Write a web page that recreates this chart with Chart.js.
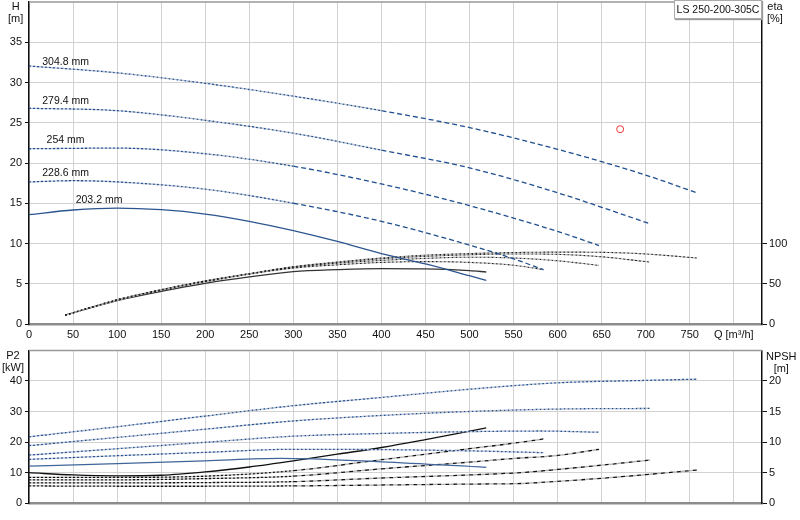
<!DOCTYPE html>
<html>
<head>
<meta charset="utf-8">
<script src="https://cdn.jsdelivr.net/npm/chart.js@4.4.1/dist/chart.umd.min.js"></script>
<style>
  body { margin: 0; background: #fff; }
  #wrap { position: relative; width: 800px; height: 520px; overflow: hidden; font-family: "Liberation Sans", Arial, sans-serif; color: #111; }
  canvas { position: absolute; left: 0; }
  .t { position: absolute; font-size: 11px; line-height: 12px; text-align: center; }
  #box { position: absolute; left: 674px; top: 0; width: 86px; height: 17px; border: 1px solid #aaa;
         box-shadow: 1px 1px 1px #999; background: #fff; font-size: 10.5px; line-height: 17px; text-align: center; }
</style>
</head>
<body>
<div id="wrap">
  <canvas id="top" width="800" height="348" style="top:-3px"></canvas>
  <canvas id="bottom" width="800" height="175" style="top:345px"></canvas>
  <div class="t" style="left:8px;top:0">H<br>[m]</div>
  <div class="t" style="left:767px;top:0">eta<br>[%]</div>
  <div class="t" style="left:2px;top:349px">P2<br>[kW]</div>
  <div class="t" style="left:766px;top:350px">NPSH<br>[m]</div>
  <div id="box">LS 250-200-305C</div>
</div>
<script>
const sizes = ['304.8 mm', '279.4 mm', '254 mm', '228.6 mm', '203.2 mm'];
const labelQ = [15, 15, 20, 15, 53];
const labelH = [32.5, 27.7, 22.9, 18.8, 15.4];

const qTicks = [0, 50, 100, 150, 200, 250, 300, 350, 400, 450, 500, 550, 600, 650, 700, 750, 800];

// Q-H
const headQ = [
  [0, 100, 200, 300, 400, 500, 600, 700, 758],
  [0, 100, 200, 300, 400, 500, 600, 650, 706],
  [0, 100, 200, 300, 400, 500, 600, 647],
  [0, 50, 100, 200, 300, 400, 500, 550, 584],
  [0, 50, 100, 150, 200, 250, 300, 350, 400, 450, 500, 519]
];
const headH = [
  [32.05, 31.2, 29.9, 28.3, 26.5, 24.4, 21.7, 18.5, 16.3],
  [26.8, 26.5, 25.3, 23.7, 21.6, 19.4, 16.3, 14.5, 12.4],
  [21.77, 21.85, 21.15, 19.6, 17.4, 14.7, 11.5, 9.75],
  [17.65, 17.8, 17.65, 16.75, 15.0, 12.75, 9.8, 8.1, 6.75],
  [13.58, 14.16, 14.4, 14.2, 13.66, 12.76, 11.6, 10.25, 8.73, 7.46, 6.0, 5.43]
];

// efficiency
const etaQ = [
  [41, 100, 150, 200, 250, 300, 350, 400, 450, 500, 550, 600, 650, 700, 758],
  [41, 100, 150, 200, 250, 300, 350, 400, 450, 500, 550, 600, 650, 704],
  [41, 100, 150, 200, 250, 300, 350, 400, 450, 500, 550, 600, 647],
  [41, 100, 150, 200, 250, 300, 350, 400, 450, 500, 550, 584],
  [41, 100, 150, 200, 250, 300, 350, 400, 450, 500, 519]
];
const etaVal = [
  [11, 29.5, 42, 52.5, 62, 71, 77, 82, 85.5, 87.5, 88.8, 89.3, 89, 87, 82],
  [11, 30, 42.5, 53, 62.5, 71, 76.5, 81, 84, 86, 87, 86.5, 83.5, 77],
  [11, 30, 42.5, 53.5, 62.5, 70.5, 75.5, 79, 81.5, 83, 82, 78.5, 72.8],
  [11, 30, 42.5, 53.5, 62, 69.5, 73.5, 76.5, 77.5, 76.5, 73, 67.5],
  [11, 29, 40.5, 50.5, 58.5, 65, 67.5, 68.8, 68.5, 66.3, 64.6]
];

// shaft power P2
const p2Q = [
  [0, 100, 200, 300, 400, 500, 600, 700, 758],
  [0, 100, 200, 300, 400, 500, 600, 705],
  [0, 100, 200, 300, 400, 500, 580, 647],
  [0, 100, 200, 300, 400, 500, 584],
  [0, 100, 200, 285, 400, 519]
];
const p2Val = [
  [21.7, 25.0, 28.5, 31.9, 34.6, 37.3, 39.4, 40.2, 40.6],
  [18.8, 21.5, 24.2, 26.9, 28.7, 30.0, 30.8, 31.0],
  [15.7, 17.8, 19.9, 21.9, 22.8, 23.4, 23.6, 23.2],
  [14.3, 15.5, 16.6, 17.6, 17.5, 17.1, 16.5],
  [12.1, 12.9, 13.8, 14.6, 13.5, 11.7]
];

// NPSH
const npshQ = [
  [0, 100, 200, 300, 400, 500, 560, 600, 650, 700, 758],
  [0, 100, 200, 300, 400, 500, 560, 600, 650, 705],
  [0, 100, 200, 300, 400, 500, 550, 600, 647],
  [0, 100, 200, 300, 400, 500, 550, 584],
  [0, 50, 100, 150, 200, 250, 300, 350, 400, 450, 519]
];
const npshVal = [
  [2.8, 2.75, 2.75, 2.8, 2.95, 3.1, 3.2, 3.55, 4.05, 4.65, 5.4],
  [3.3, 3.3, 3.35, 3.5, 4.1, 4.6, 5.0, 5.5, 6.2, 7.05],
  [3.8, 3.8, 4.0, 4.4, 5.6, 6.7, 7.3, 7.8, 8.8],
  [4.2, 4.2, 4.4, 5.3, 7.1, 8.9, 9.8, 10.5],
  [4.97, 4.6, 4.45, 4.55, 5.1, 5.9, 6.9, 8.0, 9.1, 10.4, 12.3]
];

const dutyQ = [671];
const dutyH = [24.2];

const FONT = { family: '"Liberation Sans", Arial, sans-serif', size: 11 };
const BLUE = '#1f4f8f', LBLUE = '#b7bfd0', BLACK = '#111', GREY = '#b0b0b0';

const pts = (qs, vs) => qs.map((q, i) => ({ x: q, y: vs[i] }));

// a dashed line with a second colour filling the gaps
function tone(data, axis, color, under, splitQ, dashL, dashR, underRight, w) {
  const left = c => c.p0.parsed.x < splitQ;
  const base = { data, yAxisID: axis, pointRadius: 0, borderWidth: w || 1.3, fill: false, cubicInterpolationMode: 'monotone' };
  return [
    Object.assign({}, base, {
      borderColor: under,
      segment: {
        borderDash: c => left(c) ? dashL : dashR,
        borderDashOffset: c => left(c) ? dashL[0] : dashR[0],
        borderColor: c => (left(c) || underRight) ? under : 'rgba(0,0,0,0)'
      }
    }),
    Object.assign({}, base, {
      borderColor: color,
      segment: { borderDash: c => left(c) ? dashL : dashR }
    })
  ];
}
function solid(data, axis, color) {
  return { data, yAxisID: axis, pointRadius: 0, borderWidth: 1.3, fill: false, borderColor: color, cubicInterpolationMode: 'monotone' };
}

const frame = {
  id: 'frame',
  afterDraw(chart) {
    const { ctx, chartArea: a } = chart;
    ctx.save();
    ctx.strokeStyle = '#999';
    ctx.lineWidth = 1.5;
    ctx.beginPath();
    ctx.moveTo(a.left, a.top);
    ctx.lineTo(a.right, a.top);
    ctx.stroke();
    ctx.restore();
  }
};
const curveLabels = {
  id: 'curveLabels',
  afterDatasetsDraw(chart) {
    const { ctx, scales: { x, y } } = chart;
    ctx.save();
    ctx.font = '10.5px "Liberation Sans", Arial, sans-serif';
    ctx.fillStyle = '#111';
    ctx.textBaseline = 'middle';
    sizes.forEach((s, i) => ctx.fillText(s, x.getPixelForValue(labelQ[i]), y.getPixelForValue(labelH[i])));
    ctx.restore();
  }
};

function xScale(showLabels, h) {
  return {
    type: 'linear', min: 0, max: 832,
    ticks: {
      display: showLabels, font: FONT, color: '#111', padding: 4, maxRotation: 0, autoSkip: false,
      callback: v => v === 800 ? 'Q [m³/h]' : v
    },
    afterBuildTicks: s => { s.ticks = qTicks.map(v => ({ value: v })); },
    grid: { color: '#d2d2d2', drawTicks: false },
    border: { color: '#8c8c8c', width: 2.5 },
    afterFit: s => { s.height = h; s.paddingLeft = 0; s.paddingRight = 0; }
  };
}
function leftScale(max, step) {
  return {
    position: 'left', min: 0, max,
    ticks: { stepSize: step, font: FONT, color: '#111', padding: 3 },
    afterBuildTicks: s => { s.ticks = s.ticks.filter(t => t.value < max); },
    grid: { color: '#d2d2d2', tickLength: 4, tickColor: '#111' },
    border: { color: '#111', width: 1.5 },
    afterFit: s => { s.width = 29; s.paddingTop = 0; s.paddingBottom = 0; }
  };
}
function rightScale(max, step, keep) {
  return {
    position: 'right', min: 0, max,
    ticks: { stepSize: step, font: FONT, color: '#111', padding: 2 },
    afterBuildTicks: s => { s.ticks = s.ticks.filter(t => t.value <= keep); },
    grid: { drawOnChartArea: false, tickLength: 5, tickColor: '#111' },
    border: { color: '#111', width: 1.5 },
    afterFit: s => { s.width = 38; s.paddingTop = 0; s.paddingBottom = 0; }
  };
}

// top chart
const topSets = [];
for (let i = 0; i < 4; i++) {
  const qmax = headQ[i][headQ[i].length - 1];
  topSets.push(...tone(pts(headQ[i], headH[i]), 'y', BLUE, LBLUE, qmax * 0.45, [2, 2], [5, 3], false));
}
topSets.push(solid(pts(headQ[4], headH[4]), 'y', '#2b558f'));
for (let i = 0; i < 4; i++) {
  topSets.push(...tone(pts(etaQ[i], etaVal[i]), 'eta', '#222', GREY, 1000, [2, 2], [2, 2], true, 1.1));
}
topSets.push(solid(pts(etaQ[4], etaVal[4]), 'eta', '#333'));
topSets.push({
  data: pts(dutyQ, dutyH), yAxisID: 'y', showLine: false, pointRadius: 3.5, borderWidth: 1,
  pointBorderColor: '#e33', pointBackgroundColor: 'rgba(0,0,0,0)'
});

new Chart('top', {
  type: 'line',
  data: { datasets: topSets },
  options: {
    responsive: false, animation: false, events: [],
    layout: { padding: { top: 1, left: 0, right: 0, bottom: 0 } },
    plugins: { legend: { display: false }, tooltip: { enabled: false } },
    scales: { x: xScale(true, 21), y: leftScale(40, 5), eta: rightScale(400, 50, 100) }
  },
  plugins: [frame, curveLabels]
});

// bottom chart
const botSets = [];
for (let i = 0; i < 4; i++) {
  botSets.push(...tone(pts(p2Q[i], p2Val[i]), 'y', BLUE, LBLUE, 1000, [2, 2], [2, 2], true));
}
botSets.push(solid(pts(p2Q[4], p2Val[4]), 'y', '#41659b'));
for (let i = 0; i < 4; i++) {
  botSets.push(...tone(pts(npshQ[i], npshVal[i]), 'npsh', BLACK, GREY, 260, [2, 2], [4, 4], true));
}
botSets.push(solid(pts(npshQ[4], npshVal[4]), 'npsh', BLACK));

new Chart('bottom', {
  type: 'line',
  data: { datasets: botSets },
  options: {
    responsive: false, animation: false, events: [],
    layout: { padding: { top: 5.5, left: 0, right: 0, bottom: 0 } },
    plugins: { legend: { display: false }, tooltip: { enabled: false } },
    scales: { x: xScale(false, 17), y: leftScale(50, 10), npsh: rightScale(25, 5, 20) }
  },
  plugins: [frame]
});
</script>
</body>
</html>
